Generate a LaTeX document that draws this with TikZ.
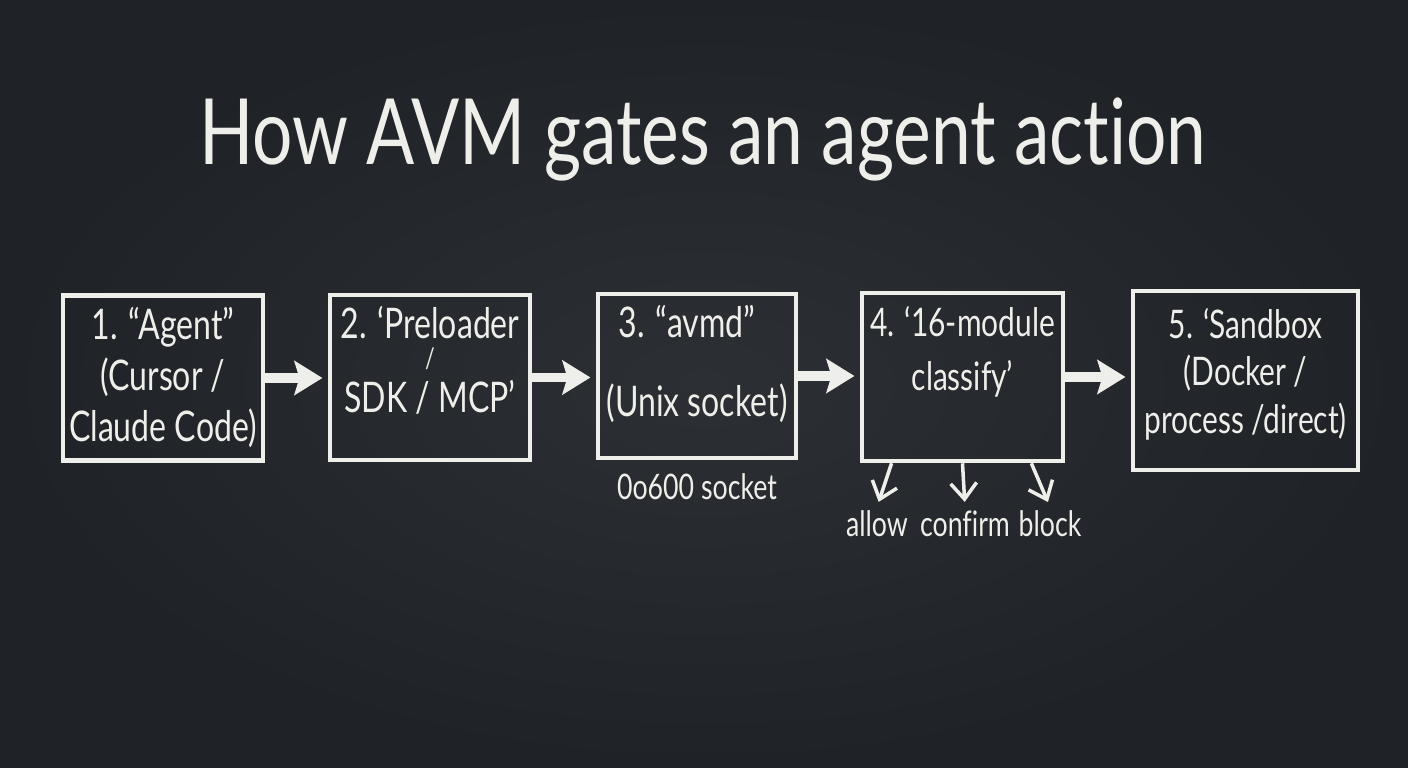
\documentclass[tikz,border=0pt]{standalone}
\usepackage{fontspec}
\setmainfont{Lato}[FakeStretch=0.76, Ligatures=NoCommon]
\newfontfamily\titlefont{Lato}[FakeStretch=0.78, Ligatures=NoCommon]
\usepackage{xcolor}
\usetikzlibrary{arrows.meta, positioning, calc}
\definecolor{board}{RGB}{31,34,38}
\definecolor{boardlight}{RGB}{44,47,51}
\definecolor{chalk}{RGB}{238,238,234}

\begin{document}
\begin{tikzpicture}[
    box/.style={rectangle, draw=chalk, line width=1.3pt,
                minimum width=20mm, minimum height=16.5mm, inner sep=0pt},
    boxtext/.style={align=center, text=chalk, inner sep=0pt,
                    font=\fontsize{12}{14.5}\selectfont},
    note/.style={text=chalk, font=\fontsize{10}{12}\selectfont, inner sep=1pt},
    flow/.style={-{Stealth[length=2.8mm, width=3.4mm, inset=0.5mm]}, chalk,
                 line width=2.8pt, shorten >=1.5pt},
    branch/.style={-{Straight Barb[length=1.6mm, width=2.6mm]}, chalk,
                   line width=1pt, shorten >=1.5pt},
]

% Board
\shade[inner color=boardlight, outer color=board] (0,0) rectangle (14.08,7.68);
\useasboundingbox (0,0) rectangle (14.08,7.68);

% Title
\node[text=chalk, font=\titlefont\fontsize{26}{30}\selectfont, anchor=base] (title) at (7.03,6.03)
    {How AVM gates an agent action};

% Pipeline boxes
\node[box] (agent) at (1.63,3.90) {};
\node[box] (preload) at (4.30,3.905) {};
\node[box, minimum width=19.8mm, minimum height=16.4mm] (avmd) at (6.97,3.92) {};
\node[box, minimum width=20.1mm, minimum height=16.8mm] (classify) at (9.625,3.91) {};
\node[box, minimum width=22.5mm, minimum height=17.9mm] (sandbox) at (12.455,3.875) {};

% Box texts
\node[boxtext, below=1.3mm of agent.north] (agenttxt) {1. “Agent”\\(Cursor /\\Claude Code)};
\node[boxtext, below=1.3mm of preload.north] (preloadtxt)
    {2. ‘Preloader\\[-6pt]{\fontsize{8}{9}\selectfont /}\\[-2pt]SDK / MCP’};
\node[boxtext, below=1.3mm of avmd.north, xshift=-1mm] (avmdtxt) {3. “avmd”\\[8pt]\hspace*{2mm}(Unix socket)};
\node[boxtext, below=1.5mm of classify.north, font=\fontsize{11.2}{14.5}\selectfont] (classifytxt)
    {4. ‘16-module\\[1pt]classify’};
\node[boxtext, below=1.9mm of sandbox.north, font=\fontsize{11.2}{14.5}\selectfont] (sandboxtxt)
    {5. ‘Sandbox\\[-1pt](Docker /\\[-1pt]process /direct)};

% Flow arrows
\draw[flow] (agent.east) -- (agent.east -| preload.west);
\draw[flow] (preload.east) -- (preload.east -| avmd.west);
\draw[flow] (avmd.east) -- (avmd.east -| classify.west);
\draw[flow] (classify.east) -- (classify.east -| sandbox.west);

% Notes under the boxes
\node[note, anchor=base] (sockperm) at (6.97,2.68) {0o600 socket};
\node[note, anchor=base] (allow) at (8.77,2.31) {allow};
\node[note, anchor=base] (confirm) at (9.65,2.31) {confirm};
\node[note, anchor=base] (block) at (10.50,2.31) {block};

% Decisions
\draw[branch] ($(classify.south west)!0.155!(classify.south east)$) -- (allow.north);
\draw[branch] (classify.south) -- (confirm.north);
\draw[branch] ($(classify.south west)!0.835!(classify.south east)$) -- (block.north);

\end{tikzpicture}
\end{document}
